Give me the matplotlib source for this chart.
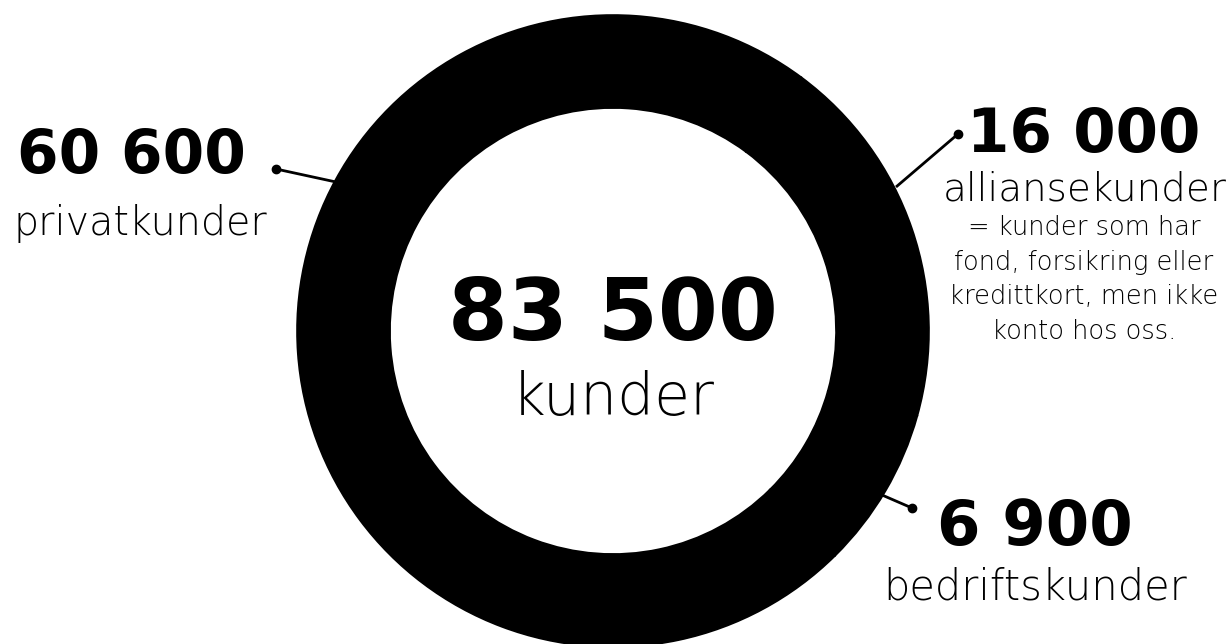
import matplotlib
matplotlib.use("Agg")
import matplotlib.pyplot as plt

# segment values (customers)
labels = ["alliansekunder", "bedriftskunder", "privatkunder"]
values = [16000, 6900, 60600]
total_value = "83 500"
total_label = "kunder"
value_texts = ["16 000", "6 900", "60 600"]
note_lines = ["= kunder som har", "fond, forsikring eller",
              "kredittkort, men ikke", "konto hos oss."]

W, H = 1232, 644
fig = plt.figure(figsize=(W / 100, H / 100), dpi=100)
ax = fig.add_axes([0, 0, 1, 1])

cx, cy, r_out = 613, H - 331, 316
ax.pie(values, colors=["black"] * 3, startangle=53.4, counterclock=False,
       center=(cx, cy), radius=r_out,
       wedgeprops=dict(width=93, edgecolor="black", linewidth=1.2))
ax.set_xlim(0, W)
ax.set_ylim(0, H)
ax.set_aspect("equal")
ax.axis("off")

bold = dict(family="DejaVu Sans", weight="bold", color="black")
light = dict(family="DejaVu Sans", weight=200, color="black")

def y(p):
    return H - p

# center
ax.text(cx, y(340), total_value, ha="center", va="baseline", fontsize=62, **bold)
ax.text(cx, y(415), total_label, ha="center", va="baseline", fontsize=42, **light)

# privatkunder
ax.text(17, y(173), value_texts[2], ha="left", va="baseline", fontsize=43, **bold)
ax.text(13, y(235), labels[2], ha="left", va="baseline", fontsize=28.5, **light)

# alliansekunder
ax.text(1084, y(152), value_texts[0], ha="center", va="baseline", fontsize=44, **bold)
ax.text(1085, y(200), labels[0], ha="center", va="baseline", fontsize=28, **light)
for i, line in enumerate(note_lines):
    ax.text(1084, y(235 + 34.5 * i), line, ha="center", va="baseline",
            fontsize=18.5, **light)

# bedriftskunder
ax.text(1035, y(545), value_texts[1], ha="center", va="baseline", fontsize=45, **bold)
ax.text(1035, y(600), labels[1], ha="center", va="baseline", fontsize=30, **light)

# leader lines with dots
leaders = [((276, 169), (336, 182)), ((958, 134), (896, 187)), ((912, 508), (882, 495))]
for (x0, y0), (x1, y1) in leaders:
    ax.plot([x0, x1], [y(y0), y(y1)], color="black", lw=2, solid_capstyle="butt")
    ax.plot([x0], [y(y0)], "o", color="black", ms=6)

fig.savefig("out.png", dpi=100)
